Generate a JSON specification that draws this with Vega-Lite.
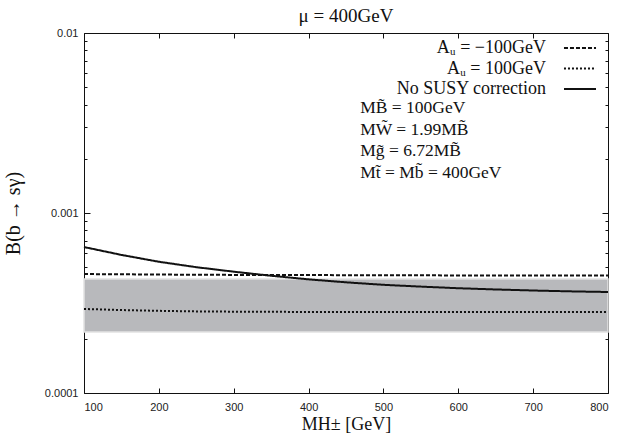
{
  "$schema": "https://vega.github.io/schema/vega-lite/v6.json",
  "width": 524,
  "height": 360,
  "autosize": {"type": "none"},
  "padding": {"left": 84, "top": 33, "right": 13, "bottom": 50},
  "background": "white",
  "title": {"text": "μ = 400GeV", "font": "Liberation Serif", "fontSize": 19, "fontWeight": "normal", "color": "#111", "offset": 1},
  "config": {
    "view": {"stroke": null},
    "axis": {"domainColor": "#111", "domainWidth": 1, "tickColor": "#111", "tickWidth": 1, "grid": false,
      "labelFont": "Liberation Sans", "labelFontSize": 11, "labelColor": "#222",
      "titleFont": "Liberation Serif", "titleFontSize": 18, "titleFontWeight": "normal", "titleColor": "#111"},
    "legend": {"orient": "none", "legendX": 487, "legendY": 6, "padding": 0, "title": null,
      "symbolType": "M-3,0H3", "symbolSize": 114, "symbolStrokeWidth": 2, "symbolStrokeColor": "#111", "symbolFillColor": "transparent",
      "labelAlign": "right", "labelOffset": -43, "labelFont": "Liberation Serif", "labelFontSize": 18, "labelColor": "#111", "rowPadding": 2.5}
  },
  "datasets": {
    "band": [{"xa": 100, "xb": 800, "lo": 0.000218, "hi": 0.000430}],
    "lines": [
      {"series": "Aᵤ = −100GeV", "M": 100, "B": 0.000458},
      {"series": "Aᵤ = −100GeV", "M": 200, "B": 0.000455},
      {"series": "Aᵤ = −100GeV", "M": 300, "B": 0.000453},
      {"series": "Aᵤ = −100GeV", "M": 400, "B": 0.000452},
      {"series": "Aᵤ = −100GeV", "M": 500, "B": 0.000451},
      {"series": "Aᵤ = −100GeV", "M": 600, "B": 0.000450},
      {"series": "Aᵤ = −100GeV", "M": 700, "B": 0.000450},
      {"series": "Aᵤ = −100GeV", "M": 800, "B": 0.000449},
      {"series": "Aᵤ = 100GeV", "M": 100, "B": 0.000293},
      {"series": "Aᵤ = 100GeV", "M": 150, "B": 0.000289},
      {"series": "Aᵤ = 100GeV", "M": 200, "B": 0.000286},
      {"series": "Aᵤ = 100GeV", "M": 250, "B": 0.000284},
      {"series": "Aᵤ = 100GeV", "M": 300, "B": 0.000283},
      {"series": "Aᵤ = 100GeV", "M": 400, "B": 0.000282},
      {"series": "Aᵤ = 100GeV", "M": 500, "B": 0.000282},
      {"series": "Aᵤ = 100GeV", "M": 600, "B": 0.000282},
      {"series": "Aᵤ = 100GeV", "M": 700, "B": 0.000282},
      {"series": "Aᵤ = 100GeV", "M": 800, "B": 0.000282},
      {"series": "No SUSY correction", "M": 100, "B": 0.000647},
      {"series": "No SUSY correction", "M": 150, "B": 0.000585},
      {"series": "No SUSY correction", "M": 200, "B": 0.000536},
      {"series": "No SUSY correction", "M": 250, "B": 0.000500},
      {"series": "No SUSY correction", "M": 300, "B": 0.000472},
      {"series": "No SUSY correction", "M": 350, "B": 0.000448},
      {"series": "No SUSY correction", "M": 400, "B": 0.000428},
      {"series": "No SUSY correction", "M": 450, "B": 0.000412},
      {"series": "No SUSY correction", "M": 500, "B": 0.000399},
      {"series": "No SUSY correction", "M": 550, "B": 0.000390},
      {"series": "No SUSY correction", "M": 600, "B": 0.000382},
      {"series": "No SUSY correction", "M": 650, "B": 0.000376},
      {"series": "No SUSY correction", "M": 700, "B": 0.000371},
      {"series": "No SUSY correction", "M": 750, "B": 0.000367},
      {"series": "No SUSY correction", "M": 800, "B": 0.000364}
    ],
    "notes": [{"id": 1}]
  },
  "layer": [
    {
      "data": {"name": "band"},
      "mark": {"type": "rect", "fill": "#b8b9bc", "stroke": "#e2e2e2", "strokeWidth": 1.5},
      "encoding": {
        "x": {"field": "xa", "type": "quantitative", "scale": {"domain": [100, 800], "nice": false, "zero": false},
          "axis": {"orient": "bottom", "values": [100, 200, 300, 400, 500, 600, 700, 800], "tickSize": -5, "labelPadding": 13, "title": "MH± [GeV]", "titlePadding": 3}},
        "x2": {"field": "xb"},
        "y": {"field": "lo", "type": "quantitative", "scale": {"type": "log", "domain": [0.0001, 0.01], "nice": false},
          "axis": {"orient": "left",
            "values": [0.0001, 0.0002, 0.0003, 0.0004, 0.0005, 0.0006, 0.0007, 0.0008, 0.0009, 0.001, 0.002, 0.003, 0.004, 0.005, 0.006, 0.007, 0.008, 0.009, 0.01],
            "labelExpr": "datum.value == 0.0001 ? '0.0001' : (datum.value == 0.001 ? '0.001' : (datum.value == 0.01 ? '0.01' : ''))",
            "tickSize": {"condition": {"test": "datum.value == 0.0001 || datum.value == 0.001 || datum.value == 0.01", "value": -6}, "value": -3},
            "labelPadding": 12, "title": "B(b → sγ)", "titleFontSize": 20, "titlePadding": 21}},
        "y2": {"field": "hi"}
      }
    },
    {
      "data": {"name": "lines"},
      "mark": {"type": "line", "stroke": "#111", "strokeWidth": 2, "strokeCap": "butt"},
      "encoding": {
        "x": {"field": "M", "type": "quantitative", "scale": {"domain": [100, 800], "nice": false, "zero": false},
          "axis": {"orient": "top", "values": [100, 200, 300, 400, 500, 600, 700, 800], "tickSize": -5, "labels": false, "title": null}},
        "y": {"field": "B", "type": "quantitative", "scale": {"type": "log", "domain": [0.0001, 0.01], "nice": false},
          "axis": {"orient": "right",
            "values": [0.0001, 0.0002, 0.0003, 0.0004, 0.0005, 0.0006, 0.0007, 0.0008, 0.0009, 0.001, 0.002, 0.003, 0.004, 0.005, 0.006, 0.007, 0.008, 0.009, 0.01],
            "tickSize": {"condition": {"test": "datum.value == 0.0001 || datum.value == 0.001 || datum.value == 0.01", "value": -6}, "value": -3},
            "labels": false, "title": null}},
        "strokeDash": {"field": "series", "type": "nominal",
          "scale": {"domain": ["Aᵤ = −100GeV", "Aᵤ = 100GeV", "No SUSY correction"], "range": [[4, 2], [2, 2], [1, 0]]},
          "legend": {}}
      }
    },
    {
      "data": {"name": "notes"},
      "mark": {"type": "text", "align": "left", "baseline": "middle", "lineHeight": 21.7, "font": "Liberation Serif", "fontSize": 17.5, "color": "#111",
        "text": ["MB̃ = 100GeV", "MW̃ = 1.99MB̃", "Mg̃ = 6.72MB̃", "Mt̃ = Mb̃ = 400GeV"]},
      "encoding": {
        "x": {"datum": 469, "type": "quantitative", "axis": null},
        "y": {"datum": 0.00383, "type": "quantitative", "axis": null}
      }
    }
  ],
  "resolve": {"axis": {"x": "independent", "y": "independent"}}
}
